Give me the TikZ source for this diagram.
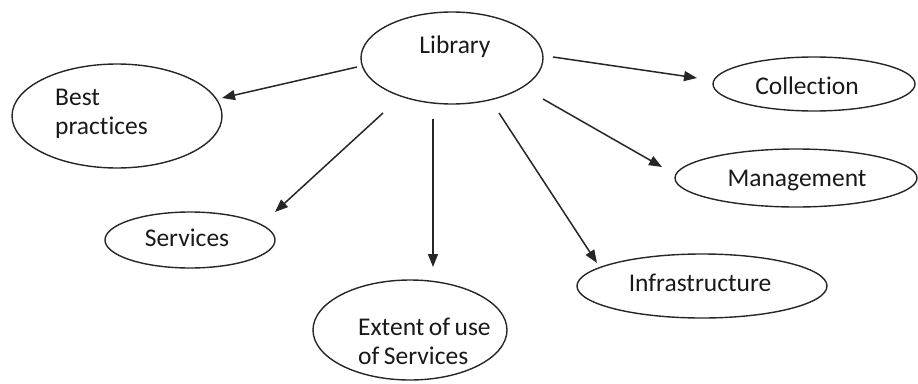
\documentclass[tikz,border=0pt]{standalone}
\usepackage{fontspec}
\setmainfont{Carlito}[Ligatures=NoCommon]
\usetikzlibrary{shapes.geometric,arrows.meta}
\newcommand{\lblfont}{\fontsize{25.5}{29}\selectfont\spaceskip=4.5pt\relax}
\tikzset{
  oval/.style={draw=black!85, line width=1.4pt, ellipse, inner sep=0pt},
  lbl/.style={font=\lblfont, text=black!90, inner sep=0pt},
  arr/.style={draw=black!85, line width=1.5pt, -{Triangle[length=13pt,width=10pt]}}
}
\begin{document}
\begin{tikzpicture}[x=1pt,y=-1pt]
\useasboundingbox (0,0) rectangle (918,383);
% ellipses
\node[oval, minimum width=182pt, minimum height=92pt] (lib) at (452,58) {};
\node[oval, minimum width=210pt, minimum height=104pt] (best) at (117,116) {};
\node[oval, minimum width=202pt, minimum height=54pt] (coll) at (814,84) {};
\node[oval, minimum width=242pt, minimum height=58pt] (mgmt) at (796,178) {};
\node[oval, minimum width=170pt, minimum height=56pt] (serv) at (190,240) {};
\node[oval, minimum width=194pt, minimum height=100pt] (ext) at (410,330) {};
\node[oval, minimum width=250pt, minimum height=64pt] (infra) at (702,286) {};
% texts
\node[lbl] (libt) at (455,47) {Library};
\node[lbl, anchor=west, align=left] (bestt) at (55,114) {Best\\practices};
\node[lbl] (collt) at (807,86) {Collection};
\node[lbl] (mgmtt) at (797,181) {Management};
\node[lbl] (servt) at (187,238) {Services};
\node[lbl, anchor=west, align=left] (extt) at (358,341) {Extent of use\\of Services};
\node[lbl] (infrat) at (700,283) {Infrastructure};
% arrow ends
\coordinate (t1) at (357,67);  \coordinate (h1) at (222,98);
\coordinate (t2) at (553,57);  \coordinate (h2) at (697,78);
\coordinate (t3) at (383,113); \coordinate (h3) at (275,212);
\coordinate (t4) at (433,119); \coordinate (h4) at (433,267);
\coordinate (t5) at (499,113); \coordinate (h5) at (597,263);
\coordinate (t6) at (543,99);  \coordinate (h6) at (662,167);
\draw[arr] (t1) -- (h1);
\draw[arr] (t2) -- (h2);
\draw[arr] (t3) -- (h3);
\draw[arr] (t4) -- (h4);
\draw[arr] (t5) -- (h5);
\draw[arr] (t6) -- (h6);
\end{tikzpicture}
\end{document}
